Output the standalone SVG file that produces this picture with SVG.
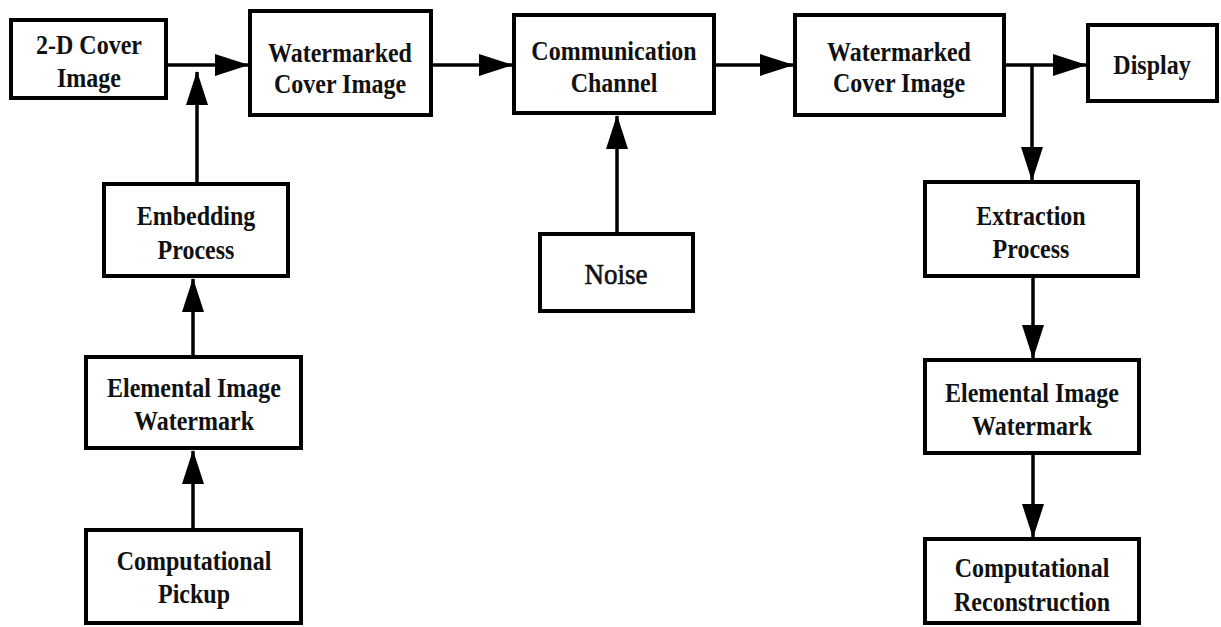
<svg xmlns="http://www.w3.org/2000/svg" width="1221" height="627" viewBox="0 0 1221 627">
<style>
.box{fill:#fff;stroke:#000;stroke-width:4}
.lbl{font-family:"Liberation Serif","Times New Roman",serif;font-weight:bold;font-size:24px;fill:#111;text-anchor:middle}
.noise{font-weight:normal;font-size:27px;stroke:#111;stroke-width:0.6}
.con{stroke:#000;stroke-width:3.5;fill:none;marker-end:url(#ah)}
</style>
<defs>
<marker id="ah" markerUnits="userSpaceOnUse" markerWidth="34" markerHeight="22" refX="33" refY="11" orient="auto">
<path d="M0,0 L34,11 L0,22 z" fill="#000"/>
</marker>
</defs>
<rect width="1221" height="627" fill="#fff"/>
<g id="connectors">
<line class="con" x1="168" y1="65" x2="248" y2="65"/>
<line class="con" x1="197" y1="182" x2="197" y2="72"/>
<line class="con" x1="193" y1="355" x2="193" y2="279"/>
<line class="con" x1="193" y1="528" x2="193" y2="451"/>
<line class="con" x1="433" y1="65" x2="512" y2="65"/>
<line class="con" x1="617" y1="232" x2="617" y2="116"/>
<line class="con" x1="716" y1="65" x2="793" y2="65"/>
<line class="con" x1="1006" y1="65" x2="1086" y2="65"/>
<line class="con" x1="1032" y1="65" x2="1032" y2="180"/>
<line class="con" x1="1033" y1="278" x2="1033" y2="358"/>
<line class="con" x1="1033" y1="455" x2="1033" y2="537"/>
</g>
<g id="cover">
<rect class="box" x="11" y="20" width="155" height="78"/>
<text class="lbl" transform="translate(89,54) scale(1,1.15)">2-D Cover</text>
<text class="lbl" transform="translate(89,87) scale(1,1.15)">Image</text>
</g>
<g id="watermarked1">
<rect class="box" x="250" y="11" width="181" height="104"/>
<text class="lbl" transform="translate(340,62) scale(1,1.15)">Watermarked</text>
<text class="lbl" transform="translate(340,93) scale(1,1.15)">Cover Image</text>
</g>
<g id="channel">
<rect class="box" x="514" y="15" width="200" height="98"/>
<text class="lbl" transform="translate(614,60) scale(1,1.15)">Communication</text>
<text class="lbl" transform="translate(614,92) scale(1,1.15)">Channel</text>
</g>
<g id="watermarked2">
<rect class="box" x="795" y="15" width="209" height="100"/>
<text class="lbl" transform="translate(899,61) scale(1,1.15)">Watermarked</text>
<text class="lbl" transform="translate(899,92) scale(1,1.15)">Cover Image</text>
</g>
<g id="display">
<rect class="box" x="1088" y="25" width="129" height="76"/>
<text class="lbl" transform="translate(1152,74) scale(1,1.15)">Display</text>
</g>
<g id="embedding">
<rect class="box" x="104" y="184" width="184" height="92"/>
<text class="lbl" transform="translate(196,225) scale(1,1.15)">Embedding</text>
<text class="lbl" transform="translate(196,259) scale(1,1.15)">Process</text>
</g>
<g id="elemental1">
<rect class="box" x="86" y="357" width="215" height="91"/>
<text class="lbl" transform="translate(194,397) scale(1,1.15)">Elemental Image</text>
<text class="lbl" transform="translate(194,430) scale(1,1.15)">Watermark</text>
</g>
<g id="pickup">
<rect class="box" x="86" y="530" width="215" height="93"/>
<text class="lbl" transform="translate(194,570) scale(1,1.15)">Computational</text>
<text class="lbl" transform="translate(194,603) scale(1,1.15)">Pickup</text>
</g>
<g id="noise">
<rect class="box" x="540" y="234" width="153" height="77"/>
<text class="lbl noise" transform="translate(616,284) scale(1,1.1)">Noise</text>
</g>
<g id="extraction">
<rect class="box" x="925" y="182" width="213" height="94"/>
<text class="lbl" transform="translate(1031,225) scale(1,1.15)">Extraction</text>
<text class="lbl" transform="translate(1031,258) scale(1,1.15)">Process</text>
</g>
<g id="elemental2">
<rect class="box" x="925" y="360" width="214" height="93"/>
<text class="lbl" transform="translate(1032,402) scale(1,1.15)">Elemental Image</text>
<text class="lbl" transform="translate(1032,435) scale(1,1.15)">Watermark</text>
</g>
<g id="reconstruction">
<rect class="box" x="925" y="539" width="214" height="84"/>
<text class="lbl" transform="translate(1032,577) scale(1,1.15)">Computational</text>
<text class="lbl" transform="translate(1032,611) scale(1,1.15)">Reconstruction</text>
</g>
</svg>
